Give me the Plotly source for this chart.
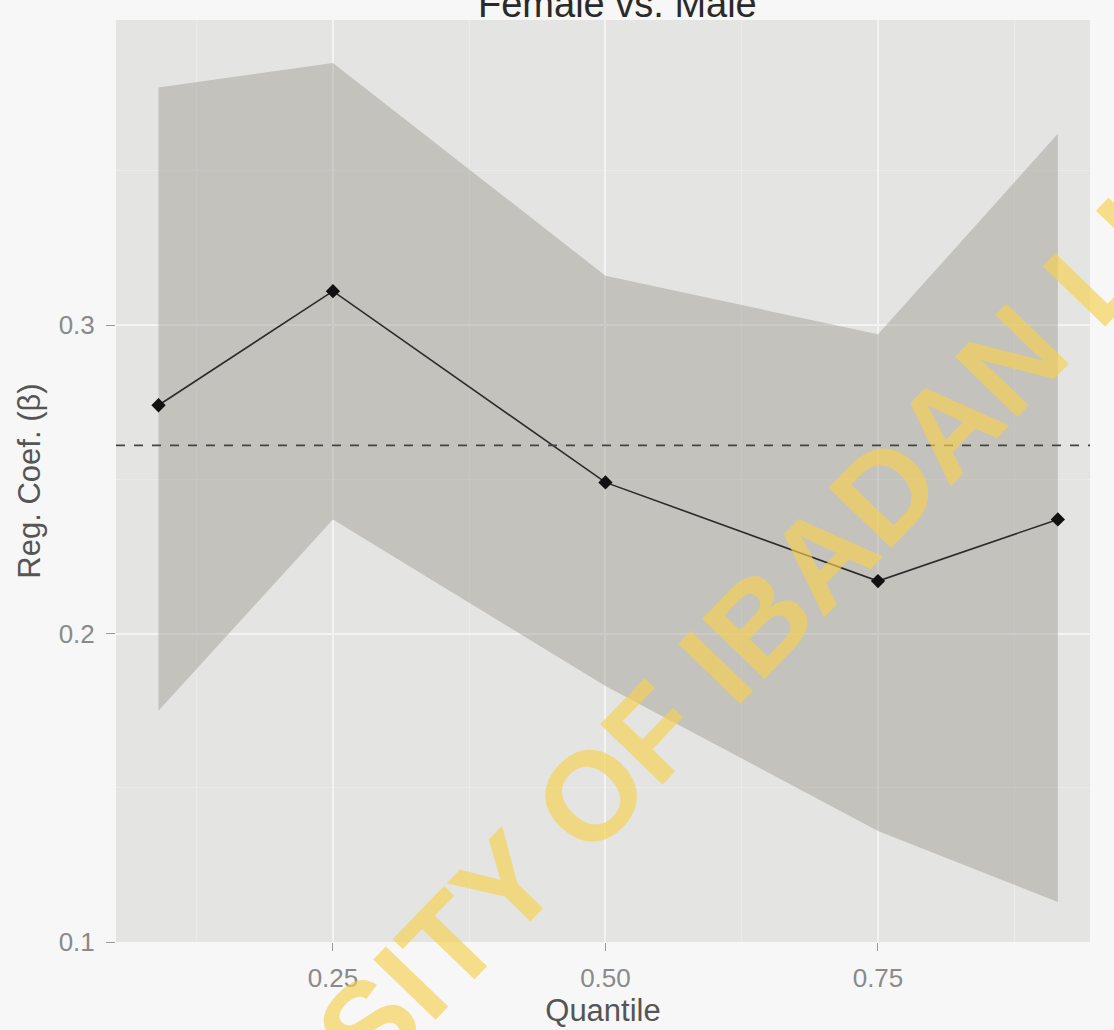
import plotly.graph_objects as go

# ---- data ----
quantiles = [0.09, 0.25, 0.50, 0.75, 0.915]
coef = [0.274, 0.311, 0.249, 0.217, 0.237]
ci_upper = [0.377, 0.385, 0.316, 0.297, 0.362]
ci_lower = [0.175, 0.237, 0.183, 0.136, 0.113]
ols_coef = 0.261
x_ticks = [0.25, 0.50, 0.75]
x_tick_labels = ["0.25", "0.50", "0.75"]
y_ticks = [0.1, 0.2, 0.3]
y_tick_labels = ["0.1", "0.2", "0.3"]
title_text = "Female vs. Male"
x_title = "Quantile"
y_title = "Reg. Coef. (β)"
watermark = "UNIVERSITY OF IBADAN LIBRARY"

FONT = "Liberation Sans, Arial, sans-serif"

fig = go.Figure()

# confidence band
fig.add_trace(go.Scatter(
    x=quantiles + quantiles[::-1],
    y=ci_upper + ci_lower[::-1],
    fill="toself",
    fillcolor="rgba(150,148,138,0.42)",
    line=dict(width=0),
    mode="lines",
    hoverinfo="skip",
    showlegend=False,
))

# coefficient line
fig.add_trace(go.Scatter(
    x=quantiles, y=coef,
    mode="lines+markers",
    line=dict(color="#2b2b2b", width=1.6),
    marker=dict(symbol="diamond", size=11, color="#111111"),
    showlegend=False,
))

# OLS dashed reference line
fig.add_shape(type="line", xref="paper", x0=0, x1=1, yref="y",
              y0=ols_coef, y1=ols_coef,
              line=dict(color="#444444", width=1.6, dash="dash"))

# title (partly cut off at top of page, as in the reference)
fig.add_annotation(text=title_text, xref="paper", yref="paper",
                   x=0.515, y=1, yanchor="middle", yshift=16,
                   showarrow=False,
                   font=dict(family=FONT, size=38, color="#2a2a2a"))

# watermark
fig.add_annotation(text=watermark, xref="paper", yref="paper",
                   x=0.632, y=0.316, xanchor="center", yanchor="middle",
                   textangle=-46, showarrow=False,
                   font=dict(family=FONT, size=126,
                             color="rgba(246,208,80,0.66)",
                             weight="bold"))

fig.update_layout(
    width=1114, height=1030,
    margin=dict(l=116, r=24, t=20, b=88),
    paper_bgcolor="#f7f7f7",
    plot_bgcolor="#e4e4e2",
    font=dict(family=FONT),
    showlegend=False,
)

fig.update_xaxes(
    range=[0.051, 0.9445],
    automargin=False,
    tickvals=x_ticks, ticktext=x_tick_labels,
    ticks="outside", ticklen=8, tickcolor="#9a9a9a", tickwidth=1.2,
    ticklabelstandoff=5,
    tickfont=dict(size=26, color="#8a8a8a"),
    showgrid=True, gridcolor="#f3f3f3", gridwidth=1.6,
    minor=dict(tickvals=[0.125, 0.375, 0.625, 0.875], showgrid=True,
               gridcolor="#ebebea", gridwidth=0.8, ticks=""),
    zeroline=False, showline=False,
    title=dict(text=x_title, font=dict(size=31, color="#555555"), standoff=6),
)
fig.update_yaxes(
    range=[0.1, 0.3989],
    automargin=False,
    tickvals=y_ticks, ticktext=y_tick_labels,
    ticks="outside", ticklen=9, tickcolor="#9a9a9a", tickwidth=1.2,
    ticklabelstandoff=6,
    tickfont=dict(size=26, color="#8a8a8a"),
    showgrid=True, gridcolor="#f3f3f3", gridwidth=1.6,
    minor=dict(tickvals=[0.15, 0.25, 0.35], showgrid=True,
               gridcolor="#ebebea", gridwidth=0.8, ticks=""),
    zeroline=False, showline=False,
    title=dict(text=y_title, font=dict(size=31, color="#555555"), standoff=8),
)

fig.write_html("out.html")
